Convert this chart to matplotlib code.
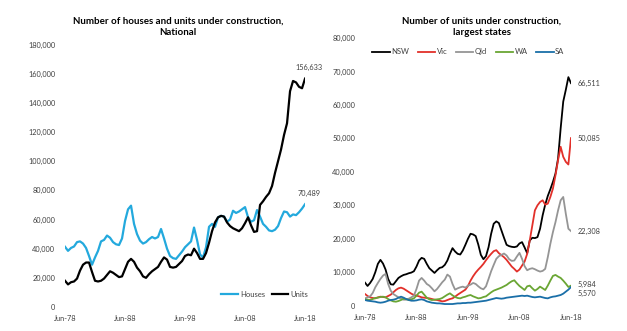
import numpy as np
import pandas as pd
import matplotlib
matplotlib.use('Agg')
import matplotlib.pyplot as plt
import matplotlib.dates as mdates
from matplotlib.ticker import FuncFormatter

plt.rcParams['font.family'] = ['Lato', 'DejaVu Sans']

# Half-yearly periods, Jun-78 to Jun-18
periods = pd.date_range('1978-06-01', '2018-06-01', freq='6MS')

# National, dwellings under construction
houses = [41300, 38500, 40500, 41500, 44500, 45000, 43500, 40500, 35000, 29000,
          34000, 38500, 45000, 46000, 49000, 47500, 44500, 43000, 42500, 47000,
          59000, 67000, 69500, 57000, 50000, 45500, 43500, 44500, 46500, 48000,
          47000, 48000, 53500, 47000, 40000, 35000, 33500, 33000, 35500, 38000,
          41000, 43000, 45000, 54500, 46000, 36000, 34000, 41000, 55000, 57000,
          55000, 61500, 62500, 62000, 58500, 60000, 66000, 64500, 65500, 67000,
          68500, 61500, 58500, 59500, 66500, 62000, 57000, 55000, 52500, 52000,
          53000, 55500, 61000, 65500, 65000, 62000, 63500, 63000, 65000, 67500,
          70489]
units = [18000, 15500, 17000, 17500, 19500, 25000, 29000, 30500, 30500, 24000,
         18000, 17500, 18000, 19500, 22000, 24500, 23500, 22000, 20500, 21000,
         26000, 31000, 33000, 31000, 27000, 24500, 21000, 20000, 22500, 24500,
         26000, 27500, 31000, 34000, 32500, 27500, 27000, 27500, 29500, 31500,
         35000, 36000, 35500, 40000, 37000, 33000, 33000, 37000, 44000, 52000,
         58000, 61500, 62500, 62000, 58000, 55500, 54000, 53000, 52000, 54000,
         57500, 61500, 56000, 51500, 52000, 70000, 72500, 75500, 78000, 83000,
         92000, 100000, 108000, 118000, 126000, 148000, 155000, 154000, 151000, 150000,
         156633]

# Units under construction by state
nsw = [6900, 5900, 6800, 8000, 10000, 12500, 13700, 12600, 10800, 8000,
       6400, 6300, 7300, 8300, 8800, 9200, 9400, 9700, 9900, 10300,
       11700, 13500, 14300, 14000, 12500, 11200, 10500, 9800, 10600, 11300,
       11500, 12200, 13500, 15500, 17200, 16200, 15500, 15300, 16500, 18200,
       20000, 21500, 21300, 20800, 18300, 15200, 13900, 14800, 17500, 21500,
       24500, 25200, 24700, 22500, 20300, 18200, 17800, 17600, 17500, 17700,
       18600, 19000, 17400, 15700, 19500, 20300, 20200, 20500, 23000, 27000,
       30200, 32800, 34800, 37000, 39500, 44000, 53000, 61000, 64500, 68300,
       66511]
vic = [3500, 2900, 2500, 2300, 2200, 2500, 2700, 2600, 2500, 2900,
       3300, 4000, 4700, 5200, 5400, 5100, 4600, 4100, 3600, 3200,
       3000, 2800, 2500, 2400, 2300, 2200, 2000, 1800, 1700, 1500,
       1300, 1400, 1700, 2000, 2200, 2700, 3300, 3800, 4300, 4800,
       5900, 7500, 8800, 9900, 10800, 11600, 12500, 13600, 14600, 15500,
       16300, 16600, 15700, 15100, 14500, 13700, 12700, 11700, 11000, 10200,
       10800, 12000, 13200, 15500, 19500, 24000, 28500, 30000, 31000, 31500,
       30200, 30500, 32500, 35000, 39000, 43500, 47500, 44500, 43000, 42200,
       50085]
qld = [2200, 2500, 2800, 3800, 5500, 6800, 8000, 9000, 9500, 6500,
       4500, 3500, 3000, 2500, 2100, 1800, 1800, 2100, 2500, 3000,
       5000, 7500, 8300, 7500, 6500, 6000, 5200, 4300, 5000, 6000,
       7000, 7800, 9300, 8700, 6500, 4800, 5200, 5500, 5700, 5400,
       6000, 6300, 6800, 6500, 5800, 5200, 4900, 5800, 8000, 10300,
       12200, 14000, 14800, 15200, 15600, 15000, 13900, 13400, 13500, 14700,
       15800, 14000, 11800, 10600, 11000, 11200, 10900, 10500, 10200, 10400,
       11000, 14500, 18500, 22000, 25000, 28500, 31500, 32500, 27500, 23000,
       22308]
wa = [1900, 1800, 1700, 2000, 2300, 2400, 2600, 2700, 2500, 2000,
      1600, 1300, 1200, 1400, 1700, 2100, 2000, 1700, 1900, 2200,
      3000, 3900, 4200, 3300, 2400, 1900, 1700, 1800, 1900, 2000,
      2300, 2800, 3300, 3700, 3100, 2600, 2300, 2200, 2500, 2700,
      3000, 3200, 2800, 2500, 2200, 2300, 2600, 2800, 3400, 4000,
      4500, 4800, 5100, 5400, 5800, 6200, 6800, 7300, 7600, 6700,
      5900, 5300, 4700, 5800, 6000, 5200, 4500, 5000, 5700, 5200,
      4700, 6000, 7500, 8900, 9200, 8700, 8300, 7500, 6600, 5600,
      5984]
sa = [1700, 1500, 1400, 1300, 1200, 1000, 900, 1000, 1200, 1500,
      1700, 1800, 2000, 2400, 2700, 2400, 2000, 1700, 1500, 1500,
      1600, 1800, 1900, 1700, 1300, 1100, 900, 800, 700, 700,
      600, 500, 500, 500, 500, 600, 700, 700, 800, 800,
      900, 900, 1000, 1100, 1200, 1300, 1400, 1500, 1700, 1900,
      2100, 2300, 2200, 2100, 2200, 2400, 2500, 2600, 2700, 2800,
      2900, 3000, 2900, 3000, 2800, 2600, 2500, 2600, 2700, 2500,
      2300, 2200, 2500, 2700, 2800, 3000, 3200, 3600, 4200, 4800,
      5570]

state_names = ['NSW', 'Vic', 'Qld', 'WA', 'SA']
state_series = [nsw, vic, qld, wa, sa]
state_colors = ['#000000', '#E2302A', '#959595', '#6AA634', '#1A6FA8']
# label nudges (points) so the two small states don't collide
state_label_dy = [0, 0, 0, 1, -4.5]

tick_dates = pd.to_datetime(['1978-06-01', '1988-06-01', '1998-06-01',
                             '2008-06-01', '2018-06-01'])
text_col = '#404040'

fig = plt.figure(figsize=(6.27, 3.31), dpi=100)
ax1 = fig.add_axes([0.1037, 0.0725, 0.3828, 0.793])
ax2 = fig.add_axes([0.5821, 0.0764, 0.3285, 0.8088])

def style_axis(ax, ymax, step):
    ax.set_xlim(periods[0], periods[-1])
    ax.set_ylim(0, ymax)
    ax.set_yticks(np.arange(0, ymax + 1, step))
    ax.yaxis.set_major_formatter(FuncFormatter(lambda v, p: f'{v:,.0f}'))
    ax.set_xticks(tick_dates)
    ax.xaxis.set_major_formatter(mdates.DateFormatter('%b-%y'))
    for s in ax.spines.values():
        s.set_visible(False)
    ax.tick_params(length=0, labelsize=5.3, labelcolor=text_col)
    ax.tick_params(axis='y', pad=7)
    ax.tick_params(axis='x', pad=6)

# left: national houses vs units
style_axis(ax1, 180000, 20000)
ax1.plot(periods, houses, color='#23A9DD', lw=1.6, label='Houses')
ax1.plot(periods, units, color='#000000', lw=1.6, label='Units')
ax1.annotate(f'{houses[-1]:,}', (periods[-1], houses[-1]), xytext=(3, 8),
             textcoords='offset points', ha='center', va='center',
             fontsize=5.3, color=text_col)
ax1.annotate(f'{units[-1]:,}', (periods[-1], units[-1]), xytext=(3, 8),
             textcoords='offset points', ha='center', va='center',
             fontsize=5.3, color=text_col)
ax1.legend(loc='lower right', bbox_to_anchor=(1.04, 0.01), ncol=2, frameon=False,
           fontsize=5.5, labelcolor=text_col, handlelength=2.2,
           handletextpad=0.2, columnspacing=0.9)

# right: units by state
style_axis(ax2, 80000, 10000)
for name, vals, col, dy in zip(state_names, state_series, state_colors, state_label_dy):
    ax2.plot(periods, vals, color=col, lw=1.3, label=name)
    ax2.annotate(f'{vals[-1]:,}', (periods[-1], vals[-1]), xytext=(5, dy),
                 textcoords='offset points', ha='left', va='center',
                 fontsize=5.3, color=text_col)
ax2.legend(loc='center', bbox_to_anchor=(0.747, 0.843), bbox_transform=fig.transFigure,
           ncol=5, frameon=False, fontsize=5.5, labelcolor=text_col,
           handlelength=2.3, handletextpad=0.2, columnspacing=1.1)

fig.text(178 / 627, 1 - 27 / 331, 'Number of houses and units under construction,\nNational',
         ha='center', va='center', fontsize=7, fontweight='bold', linespacing=1.3)
fig.text(482 / 627, 1 - 27 / 331, 'Number of units under construction,\nlargest states',
         ha='center', va='center', fontsize=7, fontweight='bold', linespacing=1.3)

fig.savefig('out.png', dpi=100)
